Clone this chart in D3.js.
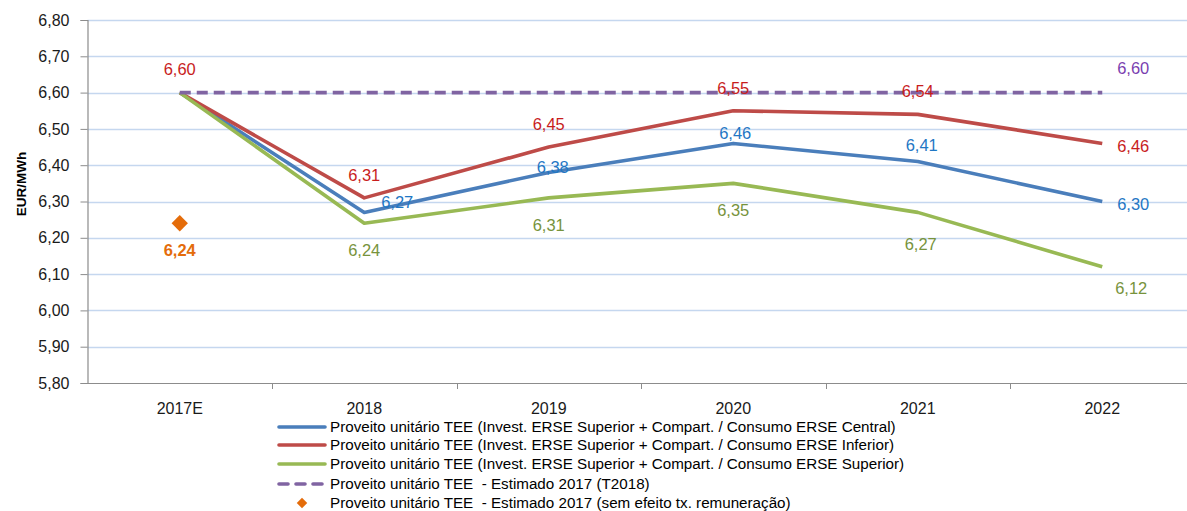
<!DOCTYPE html>
<html>
<head>
<meta charset="utf-8">
<script src="https://cdn.jsdelivr.net/npm/d3@7/dist/d3.min.js"></script>
<style>
  html, body { margin: 0; padding: 0; background: #fff; }
  svg { display: block; font-family: "Liberation Sans", Arial, sans-serif; }
  .legend-text { white-space: pre; }
</style>
</head>
<body>
<svg id="chart" width="1187" height="511"></svg>
<script>
// Categories and series values (EUR/MWh)
const categories = ["2017E", "2018", "2019", "2020", "2021", "2022"];
const central  = [6.60, 6.27, 6.38, 6.46, 6.41, 6.30];
const inferior = [6.60, 6.31, 6.45, 6.55, 6.54, 6.46];
const superior = [6.60, 6.24, 6.31, 6.35, 6.27, 6.12];
const estimado = [6.60, 6.60, 6.60, 6.60, 6.60, 6.60];
const semEfeito = [6.24, null, null, null, null, null];
const yTicks = [5.80, 5.90, 6.00, 6.10, 6.20, 6.30, 6.40, 6.50, 6.60, 6.70, 6.80];

const legendNames = [
  "Proveito unitário TEE (Invest. ERSE Superior + Compart. / Consumo ERSE Central)",
  "Proveito unitário TEE (Invest. ERSE Superior + Compart. / Consumo ERSE Inferior)",
  "Proveito unitário TEE (Invest. ERSE Superior + Compart. / Consumo ERSE Superior)",
  "Proveito unitário TEE  - Estimado 2017 (T2018)",
  "Proveito unitário TEE  - Estimado 2017 (sem efeito tx. remuneração)"
];

// Where each value label sits relative to its point (null = no label)
const centralLabelPos  = [null, "tr", "c", "tn", "tm", "r"];
const inferiorLabelPos = ["t", "t", "t", "t", "t", "r"];
const superiorLabelPos = [null, "b", "b", "b", "bb", "br"];
const estimadoLabelPos = [null, null, null, null, null, "rt"];
const semEfeitoLabelPos = ["b", null, null, null, null, null];

const labelOffsets = {
  t:  [0, -23], tn: [2, -10], tm: [4, -16], c: [4, -5],
  b:  [0, 27], bb: [3, 32], r: [31, 3], tr: [33, -10],
  br: [29, 21], rt: [31, -24]
};

const fmt = v => d3.format(".2f")(v).replace(".", ",");

const svg = d3.select("#chart");
const margin = { left: 87.5, top: 20, bottom: 383 };
const x = d3.scaleBand().domain(categories).range([margin.left, margin.left + 6 * 184.5]);
const y = d3.scaleLinear().domain([5.80, 6.80]).range([margin.bottom, margin.top]);
const cx = c => x(c) + x.bandwidth() / 2;

// Horizontal grid lines
svg.append("g").selectAll("line").data(yTicks.slice(1)).join("line")
  .attr("x1", margin.left).attr("x2", 1187)
  .attr("y1", d => Math.round(y(d)) + 0.5).attr("y2", d => Math.round(y(d)) + 0.5)
  .attr("stroke", "#c5d7ef").attr("stroke-width", 1.3);

// Y axis
const yAxis = svg.append("g")
  .attr("transform", `translate(${margin.left},0)`)
  .call(d3.axisLeft(y).tickValues(yTicks).tickSize(7).tickPadding(11).tickFormat(fmt));
yAxis.select(".domain").attr("stroke", "#8c8c8c").attr("stroke-width", 1.2);
yAxis.selectAll(".tick line").attr("stroke", "#8c8c8c");
yAxis.selectAll(".tick text").attr("font-size", 16).attr("fill", "#1a1a1a")
  .attr("font-family", "Liberation Sans, Arial, sans-serif");

// X axis with ticks between categories
const xAxis = svg.append("g").attr("transform", `translate(0,${margin.bottom})`)
  .call(d3.axisBottom(x).tickSize(0).tickPadding(20));
xAxis.select(".domain").attr("stroke", "#8c8c8c").attr("stroke-width", 1.2);
xAxis.selectAll(".tick text").attr("font-size", 16).attr("fill", "#1a1a1a")
  .attr("font-family", "Liberation Sans, Arial, sans-serif");
xAxis.selectAll(".boundary").data(categories.slice(1)).join("line")
  .attr("class", "boundary")
  .attr("x1", d => Math.round(x(d)) + 0.5).attr("x2", d => Math.round(x(d)) + 0.5)
  .attr("y1", 0).attr("y2", 6).attr("stroke", "#8c8c8c");

// Y axis title
svg.append("text")
  .attr("transform", `translate(26,184) rotate(-90)`)
  .attr("text-anchor", "middle")
  .attr("font-size", 13.5).attr("font-weight", "bold").attr("fill", "#000")
  .text("EUR/MWh");

const series = [
  { values: central,  color: "#4a7ebb", label: "#1f77c4", pos: centralLabelPos },
  { values: inferior, color: "#be4b48", label: "#c81d1d", pos: inferiorLabelPos },
  { values: superior, color: "#98b954", label: "#77933c", pos: superiorLabelPos },
  { values: estimado, color: "#8064a2", label: "#7a3fb0", pos: estimadoLabelPos, dash: "11,6" }
];

const line = d3.line()
  .defined(d => d.v != null)
  .x(d => cx(d.c)).y(d => y(d.v));

series.forEach(s => {
  svg.append("path")
    .datum(categories.map((c, i) => ({ c, v: s.values[i] })))
    .attr("fill", "none")
    .attr("stroke", s.color)
    .attr("stroke-width", 3.6)
    .attr("stroke-linejoin", "round")
    .attr("stroke-dasharray", s.dash || null)
    .attr("d", line);
});

// Diamond marker series
const diamond = d3.symbol().type(d3.symbolDiamond2).size(170);
svg.append("g").selectAll("path")
  .data(categories.map((c, i) => ({ c, v: semEfeito[i] })).filter(d => d.v != null))
  .join("path")
  .attr("transform", d => `translate(${cx(d.c)},${y(d.v)})`)
  .attr("d", diamond)
  .attr("fill", "#e46c0a");

// Value labels
function drawLabels(values, pos, color, bold) {
  svg.append("g").selectAll("text")
    .data(categories.map((c, i) => ({ c, v: values[i], p: pos[i] })).filter(d => d.p && d.v != null))
    .join("text")
    .attr("x", d => cx(d.c) + labelOffsets[d.p][0])
    .attr("y", d => y(d.v) + labelOffsets[d.p][1])
    .attr("dy", "0.35em")
    .attr("text-anchor", "middle")
    .attr("font-size", 16.5)
    .attr("font-weight", bold ? "bold" : null)
    .attr("fill", color)
    .text(d => fmt(d.v));
}
series.forEach(s => drawLabels(s.values, s.pos, s.label, false));
drawLabels(semEfeito, semEfeitoLabelPos, "#e46c0a", true);

// Legend
const legend = svg.append("g");
const legendY = [427, 445, 464, 484, 503];
legendNames.forEach((name, i) => {
  const g = legend.append("g").attr("transform", `translate(0,${legendY[i]})`);
  if (i < 4) {
    const s = series[i];
    g.append("line").attr("x1", 279).attr("x2", 325).attr("y1", 0).attr("y2", 0)
      .attr("stroke", s.color).attr("stroke-width", 3.6)
      .attr("stroke-linecap", "round")
      .attr("stroke-dasharray", s.dash ? "9,8" : null);
  } else {
    g.append("path").attr("transform", "translate(302,0)")
      .attr("d", d3.symbol().type(d3.symbolDiamond2).size(70)).attr("fill", "#e46c0a");
  }
  g.append("text").attr("class", "legend-text")
    .attr("x", 330).attr("y", 0).attr("dy", "0.35em")
    .attr("font-size", 15.2).attr("fill", "#000").text(name);
});
</script>
</body>
</html>
